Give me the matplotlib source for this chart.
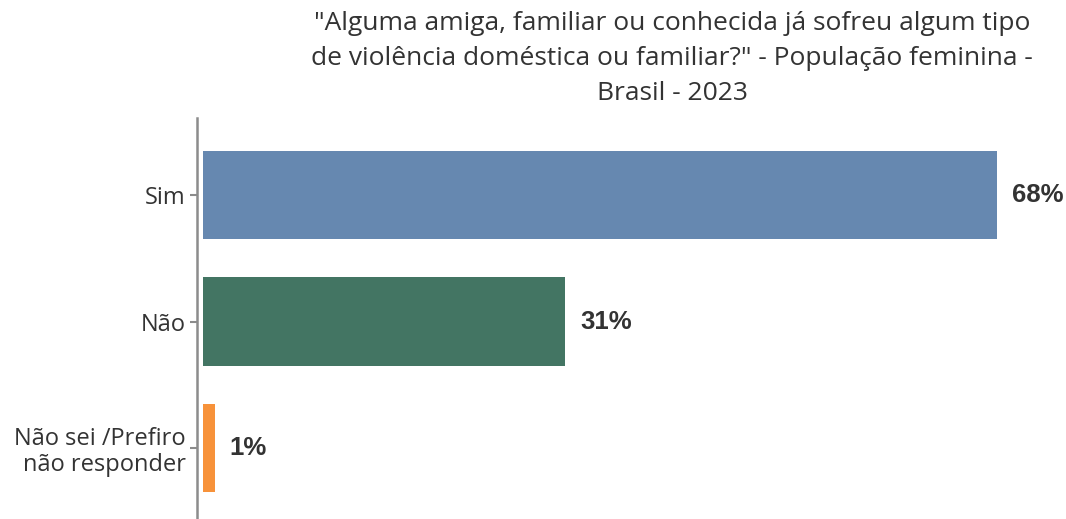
import matplotlib
matplotlib.use("Agg")
from matplotlib import pyplot as plt

categories = ["Sim", "Não", "Não sei /Prefiro\nnão responder"]
values = [68, 31, 1]
labels = ["68%", "31%", "1%"]
colors = ["#6688B0", "#437563", "#F7923A"]

title = ('"Alguma amiga, familiar ou conhecida já sofreu algum tipo\n'
         'de violência doméstica ou familiar?" - População feminina -\n'
         'Brasil - 2023')

fig = plt.figure(figsize=(10.66, 5.19), dpi=100)
ax = fig.add_axes([197 / 1066, 0.0, 1 - 197 / 1066, 1 - 118 / 519])

pos = [2, 1, 0]
ax.barh(pos, values, height=0.7, color=colors)
for p, v, lab in zip(pos, values, labels):
    ax.text(v + 1.3, p, lab, va="center", ha="left", fontsize=18.5,
            fontweight="bold", color="#333333", family="Liberation Sans")

ax.set_xlim(-0.51, 73.9)
ax.set_ylim(-0.56, 2.61)
ax.set_yticks(pos)
ax.set_yticklabels(categories, fontsize=17, color="#333333", family="Open Sans",
                   linespacing=1.1)
ax.set_xticks([])
for s in ["top", "right", "bottom"]:
    ax.spines[s].set_visible(False)
ax.spines["left"].set_color("#8c8c8c")
ax.spines["left"].set_linewidth(1.8)
ax.tick_params(axis="y", length=5, width=1.5, color="#8c8c8c", pad=3)

fig.text(672 / 1066, 1 - 11 / 519, title, ha="center", va="top", fontsize=19,
         color="#333333", family="Open Sans", linespacing=1.52)

fig.savefig("out.png", dpi=100)
